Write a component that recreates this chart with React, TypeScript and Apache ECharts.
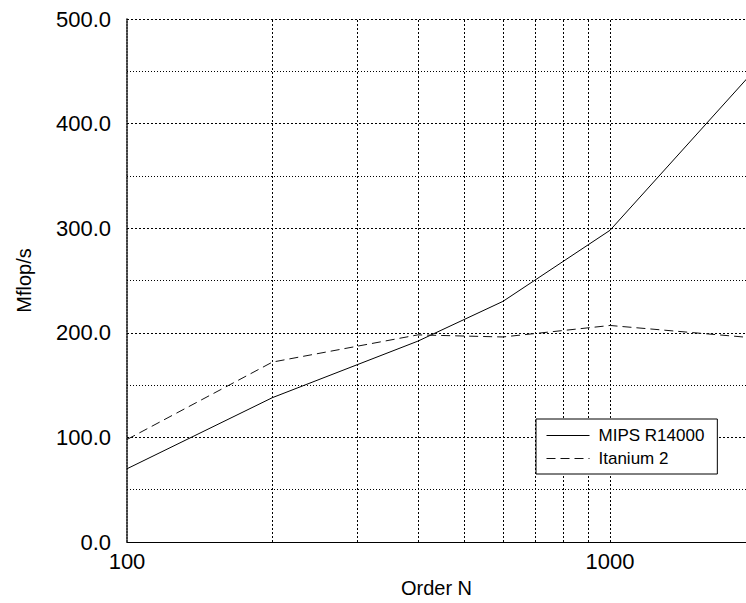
import React, { useEffect, useRef } from "react";
import * as echarts from "echarts";

const seriesNames = ["MIPS R14000", "Itanium 2"];
const orderN = [100, 200, 400, 600, 1000, 2000];
const mipsValues = [70, 138, 192, 230, 298, 452];
const itaniumValues = [98, 172, 198, 196, 207, 195];
const xTickLabels = [100, 1000];
const xGridValues = [200, 300, 400, 500, 600, 700, 800, 900, 1000];

export default function App() {
  const ref = useRef<HTMLDivElement>(null);
  useEffect(() => {
    if (!ref.current) return;
    const chart = echarts.init(ref.current, null, { renderer: "svg" });
    const font = "'Liberation Sans', Arial, Helvetica, sans-serif";
    chart.setOption({
      animation: false,
      backgroundColor: "#ffffff",
      textStyle: { fontFamily: font, color: "#000" },
      grid: { left: 127, right: 0, top: 19, bottom: 61, containLabel: false },
      legend: {
        orient: "vertical",
        left: 536,
        top: 419,
        backgroundColor: "#ffffff",
        borderColor: "#000",
        borderWidth: 1,
        borderRadius: 0,
        padding: [8, 13, 7, 10],
        itemWidth: 43,
        itemHeight: 14,
        itemGap: 6,
        itemStyle: { opacity: 0, borderWidth: 0 },
        lineStyle: { width: 1 },
        textStyle: { fontFamily: font, fontSize: 17, color: "#000", padding: [0, 0, 0, 4] },
        data: seriesNames,
      },
      xAxis: {
        type: "log",
        logBase: 10,
        min: 100,
        max: 1912,
        name: "Order N",
        nameLocation: "middle",
        nameGap: 36,
        nameTextStyle: { fontFamily: font, fontSize: 20, color: "#000" },
        axisLine: { show: true, lineStyle: { color: "#000", width: 1 } },
        axisTick: { show: false },
        splitLine: { show: false },
        minorTick: { show: false },
        axisLabel: {
          fontFamily: font,
          fontSize: 22,
          color: "#000",
          margin: 8,
          showMaxLabel: false,
          formatter: (v: number) => {
            const hit = xTickLabels.find((t) => Math.abs(t - v) / t < 1e-6);
            return hit !== undefined ? String(hit) : "";
          },
        },
      },
      yAxis: {
        type: "value",
        min: 0,
        max: 500,
        interval: 100,
        name: "Mflop/s",
        nameLocation: "middle",
        nameGap: 93,
        nameTextStyle: { fontFamily: font, fontSize: 20, color: "#000" },
        axisLine: { show: true, lineStyle: { color: "#000", width: 1.5, type: [2, 1] } },
        axisTick: { show: false },
        axisLabel: {
          fontFamily: font,
          fontSize: 22,
          color: "#000",
          margin: 16,
          formatter: (v: number) => v.toFixed(1),
        },
        splitLine: { show: true, lineStyle: { color: "#000", width: 1, type: [2, 2] } },
        minorTick: { show: false, splitNumber: 2 },
        minorSplitLine: { show: true, lineStyle: { color: "#000", width: 1, type: [1, 2] } },
      },
      series: [
        {
          name: seriesNames[0],
          type: "line",
          data: orderN.map((x, i) => [x, mipsValues[i]]),
          symbol: "none",
          clip: true,
          lineStyle: { color: "#000", width: 1, type: "solid" },
          itemStyle: { color: "#000" },
          z: 5,
          markLine: {
            silent: true,
            symbol: "none",
            label: { show: false },
            lineStyle: { color: "#000", width: 1, type: [2, 2] },
            data: xGridValues.map((v) => ({ xAxis: v })),
            z: 1,
          },
        },
        {
          name: seriesNames[1],
          type: "line",
          data: orderN.map((x, i) => [x, itaniumValues[i]]),
          symbol: "none",
          clip: true,
          lineStyle: { color: "#111", width: 1, type: [9, 5] },
          itemStyle: { color: "#111" },
          z: 5,
        },
      ],
    });
    return () => chart.dispose();
  }, []);
  return (
    <div
      ref={ref}
      style={{ position: "fixed", left: 0, top: 0, width: 746, height: 603, background: "#fff" }}
    />
  );
}
